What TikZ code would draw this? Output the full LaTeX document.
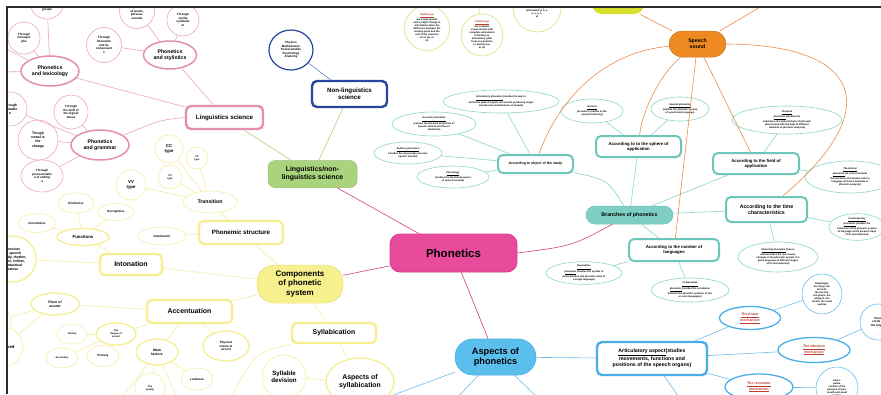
\documentclass[tikz,border=0pt]{standalone}
\usepackage{fontspec}
\setmainfont{Liberation Sans}
\usetikzlibrary{shapes.geometric,shapes.misc}
\definecolor{mag}{HTML}{E94B9C}
\definecolor{magd}{HTML}{D43C88}
\definecolor{pinkb}{HTML}{E48FAF}
\definecolor{pinkt}{HTML}{EBA7C0}
\definecolor{grn}{HTML}{A9D47E}
\definecolor{navy}{HTML}{27479E}
\definecolor{yel}{HTML}{F7F08F}
\definecolor{yelb}{HTML}{F6EE90}
\definecolor{yelt}{HTML}{F6F0AA}
\definecolor{tl}{HTML}{7ECEC3}
\definecolor{tlb}{HTML}{6CC6B9}
\definecolor{tlt}{HTML}{8AD5CA}
\definecolor{org}{HTML}{EF8A23}
\definecolor{orgl}{HTML}{E98C4E}
\definecolor{sky}{HTML}{5BBFEE}
\definecolor{skyb}{HTML}{49AEE6}
\definecolor{skyt}{HTML}{6CBDEB}
\definecolor{limec}{HTML}{D5E02C}
\definecolor{limet}{HTML}{DCE58A}
\definecolor{redt}{HTML}{C0392B}
\definecolor{framec}{HTML}{2B2B2B}
\tikzset{
 base/.style={inner sep=0pt, align=center, text=black},
 ell/.style={base, ellipse},
 cir/.style={base, circle},
 wbox/.style={base, rectangle, rounded corners=5pt, fill=white, line width=2.4pt},
 f1/.style={font=\fontsize{2.5}{3.0}\selectfont\bfseries},
 f2/.style={font=\fontsize{3}{3.6}\selectfont\bfseries},
 f3/.style={font=\fontsize{3.5}{4.1}\selectfont\bfseries},
 f4/.style={font=\fontsize{4.3}{5.1}\selectfont\bfseries},
 f5/.style={font=\fontsize{5.2}{6.2}\selectfont\bfseries},
 f6/.style={font=\fontsize{6.2}{7.4}\selectfont\bfseries},
 f7/.style={font=\fontsize{6.9}{8.1}\selectfont\bfseries},
 f8/.style={font=\fontsize{8}{9.4}\selectfont\bfseries},
 f9/.style={font=\fontsize{9.2}{10.6}\selectfont\bfseries},
 fP/.style={font=\fontsize{11.5}{13}\selectfont\bfseries},
 pinkthick/.style={draw=pinkb, line width=1.5pt, fill=white},
 pinkthin/.style={draw=pinkt, line width=0.6pt, fill=white},
 yelthick/.style={draw=yelb, line width=1.3pt, fill=white},
 yelthin/.style={draw=yelt, line width=0.7pt, fill=white},
 tealthin/.style={draw=tlt, line width=0.6pt, fill=white},
 skythick/.style={draw=skyb, line width=1.3pt, fill=white},
 skythin/.style={draw=skyt, line width=0.6pt, fill=white},
 limethin/.style={draw=limet, line width=0.7pt, fill=white},
 pl/.style={draw=pinkt, line width=0.6pt},
 gl/.style={draw=grn, line width=0.6pt},
 nl/.style={draw=navy!80, line width=0.5pt},
 ml/.style={draw=magd, line width=0.6pt},
 yl/.style={draw=yelt, line width=0.7pt},
 tline/.style={draw=tlt, line width=0.6pt},
 ol/.style={draw=orgl, line width=0.6pt},
 sl/.style={draw=skyt, line width=0.6pt},
 ll/.style={draw=limet, line width=0.6pt},
}
\newcommand{\rtxt}[1]{\textcolor{redt}{\underline{#1}}}
\begin{document}
\begin{tikzpicture}[x=1pt,y=-1pt]
\useasboundingbox (0,0) rectangle (881,394);
\fill[white] (0,0) rectangle (881,394);
\begin{scope}
\clip (7,7) rectangle (881,394);

% ---------------- central
\node[base, fP, rectangle, rounded corners=10pt, fill=mag, draw=magd, line width=0.8pt, minimum width=127pt, minimum height=38pt] (ph) at (453.5,253) {Phonetics};

% ---------------- linguistics
\node[base, f7, rectangle, rounded corners=7pt, fill=grn, draw=grn!90!black, line width=0.5pt, minimum width=89pt, minimum height=27pt] (lnl) at (312.5,174) {Linguistics/non-\\linguistics science};
\node[wbox, f6, draw=navy, minimum width=75pt, minimum height=26pt] (nl) at (349.5,94) {Non-linguistics\\science};
\node[ell, f2, draw=navy, line width=1.2pt, fill=white, minimum width=44pt, minimum height=40pt] (phys) at (291,50) {Physics\\Mathematics\\Social studies\\Psychology\\Anatomy};
\node[wbox, f6, draw=pinkb, minimum width=77pt, minimum height=23pt] (ls) at (224.5,117.5) {Linguistics science};

\node[ell, pinkthick, f5, minimum width=58pt, minimum height=30pt] (lex) at (50,71) {Phonetics\\and lexicology};
\node[ell, pinkthick, f5, minimum width=53pt, minimum height=28pt] (sty) at (170,55) {Phonetics\\and stylistics};
\node[ell, pinkthick, f5, minimum width=58pt, minimum height=30pt] (gram) at (100,145) {Phonetics\\and grammar};

\node[cir, pinkthin, minimum size=34pt] (grp) at (47,2) {};
\node[base, f2] (grpt) at (47,10) {groups};
\node[cir, pinkthin, f2, minimum size=32pt] (hom) at (24,38) {Through\\homogra\\phs};
\node[cir, pinkthin, f2, minimum size=35pt] (intc) at (104,45) {Through\\intonation\\and its\\component\\s};
\node[cir, pinkthin, f2, minimum size=35pt] (rep) at (137,11) {Through\\repetition\\of words,\\phrases,\\sounds};
\node[cir, pinkthin, f2, minimum size=32pt] (sym) at (183,20) {Through\\words\\symbolis\\m};
\node[cir, pinkthin, f3, minimum size=34pt] (ron) at (10,109) {Through\\intonatio\\n};
\node[cir, pinkthin, f2, minimum size=34pt] (shf) at (71,112) {Through\\the shift of\\the logical\\stress};
\node[cir, pinkthin, f3, minimum size=40pt] (vow) at (38,140) {Trough\\vowel is\\the\\change};
\node[ell, pinkthin, f2, minimum width=42pt, minimum height=32pt] (pro) at (42,176) {Through\\pronounciatio\\n of ending\\-s};
\coordinate (offA) at (0,72);
\coordinate (offB) at (0,46);

\draw[gl] (lnl) -- (nl);
\draw[gl] (lnl) -- (ls);
\draw[nl] (phys) -- (nl);
\draw[ml] (lnl) -- (ph);
\draw[pl] (ls) -- (lex);
\draw[pl] (ls) -- (sty);
\draw[pl] (ls.west) .. controls (160,120) .. (gram);
\draw[pl] (lex) -- (grp);
\draw[pl] (lex) -- (hom);
\draw[pl] (lex) -- (offA);
\draw[pl] (lex) -- (offB);
\draw[pl] (sty) -- (intc);
\draw[pl] (sty) -- (rep);
\draw[pl] (sty) -- (sym);
\draw[pl] (gram) -- (shf);
\draw[pl] (gram) -- (vow);
\draw[pl] (gram) -- (pro);
\draw[pl] (gram) -- (ron);

% ---------------- components (yellow)
\node[base, f8, rectangle, rounded corners=17pt, fill=yel, draw=yelb!80!black!30!yel, line width=0.5pt, minimum width=86pt, minimum height=38pt] (comp) at (300,284) {Components\\of phonetic\\system};
\node[wbox, f6, draw=yelb, minimum width=84pt, minimum height=23pt] (phs) at (241,232.5) {Phonemic structure};
\node[ell, yelthin, f5, minimum width=54pt, minimum height=22pt] (tra) at (210,202) {Transition};
\node[cir, yelthin, f4, minimum size=28pt] (cc) at (169,149) {CC\\type};
\node[cir, yelthin, f1, minimum size=22pt] (vc) at (197,158) {VC\\type};
\node[cir, yelthin, f1, minimum size=24pt] (cv) at (170,177) {CV\\type};
\node[cir, yelthin, f4, minimum size=30pt] (vv) at (131,185) {VV\\type};
\node[ell, yelthin, f2, minimum width=48pt, minimum height=18pt] (dis) at (162,236) {Distribution};

\node[wbox, f7, draw=yelb, minimum width=62pt, minimum height=21pt] (int) at (131,264.5) {Intonation};
\node[ell, yelthick, f4, minimum width=52pt, minimum height=17pt] (fun) at (83,237) {Functions};
\node[ell, yelthin, f2, minimum width=36pt, minimum height=20pt] (dst) at (76,203) {Distinctive};
\node[ell, yelthin, f2, minimum width=36pt, minimum height=17pt] (rec) at (116,212) {Recognitive};
\node[ell, yelthin, f2, minimum width=38pt, minimum height=19pt] (con) at (37,223) {Constitutive};
\node[cir, yelthick, f3, minimum size=46pt] (icon) at (13,259) {consists\\of speech\\melody, rhythm,\\tempo, timbre,\\syntactical\\stress};

\node[wbox, f7, draw=yelb, minimum width=85pt, minimum height=23pt] (acc) at (189.5,311.5) {Accentuation};
\node[ell, yelthick, f3, minimum width=48pt, minimum height=22pt] (poa) at (55,304) {Place of\\accent};
\node[cir, yelthin, minimum size=34pt] (pa1) at (-6,322) {};
\node[cir, yelthin, minimum size=40pt] (pa2) at (3,347) {};
\node[base, f4] (pa2t) at (9,347) {Fixed};
\node[ell, yelthick, f1, minimum width=40pt, minimum height=22pt] (deg) at (116,334) {The\\degree of\\accent};
\node[ell, yelthin, f1, minimum width=30pt, minimum height=20pt] (ter) at (72,334) {Tertiary};
\node[ell, yelthin, f1, minimum width=32pt, minimum height=20pt] (sec) at (62,358) {Secondary};
\node[ell, yelthin, f2, minimum width=32pt, minimum height=21pt] (pri) at (103,356) {Primary};
\node[ell, yelthick, f3, minimum width=42pt, minimum height=26pt] (mf) at (157,352) {Main\\factors};
\node[ell, yelthin, f2, minimum width=32pt, minimum height=22pt] (lou) at (197,379) {Loudness};
\node[cir, yelthin, f1, minimum size=30pt] (qua) at (150,388) {The\\quality};
\node[ell, yelthick, f2, minimum width=46pt, minimum height=30pt] (pna) at (226,346) {Physical\\nature of\\accent};
\coordinate (mfo1) at (120,400);
\coordinate (mfo2) at (178,400);

\node[wbox, f7, draw=yelb, minimum width=84pt, minimum height=20pt] (syl) at (334,333) {Syllabication};
\node[ell, yelthick, f7, minimum width=68pt, minimum height=48pt] (asy) at (360,382) {Aspects of\\syllabication};
\node[cir, yelthin, f6, minimum size=44pt] (sdv) at (284,377) {Syllable\\devision};
\coordinate (syo) at (230,400);

\draw[ml] (ph) -- (comp);
\draw[yl] (phs) -- (comp);
\draw[yl] (tra) -- (phs);
\draw[yl] (cc) -- (tra);
\draw[yl] (vc) -- (tra);
\draw[yl] (cv) -- (tra);
\draw[yl] (vv) -- (tra);
\draw[yl] (dis) -- (phs);
\draw[yl] (int) -- (comp);
\draw[yl] (fun) -- (int);
\draw[yl] (dst) -- (fun);
\draw[yl] (rec) -- (fun);
\draw[yl] (con) -- (fun);
\draw[yl] (icon) -- (int);
\draw[yl] (acc) -- (comp);
\draw[yl] (poa) -- (acc);
\draw[yl] (poa) -- (pa1);
\draw[yl] (poa) -- (pa2);
\draw[yl] (deg) -- (acc);
\draw[yl] (ter) -- (deg);
\draw[yl] (sec) -- (deg);
\draw[yl] (pri) -- (deg);
\draw[yl] (mf) -- (acc);
\draw[yl] (mf) -- (lou);
\draw[yl] (mf) -- (qua);
\draw[yl] (mf) -- (mfo1);
\draw[yl] (mf) -- (mfo2);
\draw[yl] (pna) -- (acc);
\draw[yl] (syl) -- (comp);
\draw[yl] (asy) -- (syl);
\draw[yl] (sdv) -- (asy);
\draw[yl] (syl.south west) .. controls (255,352) .. (syo);

% ---------------- aspects (blue)
\node[base, f9, rectangle, rounded corners=18pt, fill=sky, draw=skyb, line width=0.6pt, minimum width=81pt, minimum height=36pt] (asp) at (495.5,357) {Aspects of\\phonetics};
\node[wbox, f5, draw=skyb, minimum width=110pt, minimum height=33pt] (art) at (652,358.5) {\underline{Articulatory aspect}(studies\\movements, functions and\\positions of the speech organs)};
\node[ell, skythick, f3, minimum width=61pt, minimum height=23pt] (pow) at (750,318) {\rtxt{The power}\\\rtxt{mechanism}};
\node[ell, skythick, f3, minimum width=72pt, minimum height=25pt] (vib) at (814,350) {\rtxt{The vibration}\\\rtxt{mechanism}};
\node[ell, skythick, f3, minimum width=68pt, minimum height=26pt] (res) at (759,387) {\rtxt{The resonator}\\\rtxt{mechanism}};
\node[cir, skythin, f1, minimum size=40pt] (dia) at (822,294) {Diaphragm,\\the lungs, the\\bronchi,\\the trachea,\\the glottis, the\\pharynx, the\\mouth, the nasal\\cavities};
\node[cir, skythin, f2, minimum size=36pt] (voc) at (878,322) {Vocal\\cords in\\the larynx};
\node[cir, skythin, f1, minimum size=42pt] (soa) at (837,388) {Soars:\\palate,\\cavities of the\\pharynx, larynx,\\mouth and nasal\\cavities};
\coordinate (aso1) at (388,397);
\coordinate (aso2) at (455,400);
\coordinate (aso3) at (540,400);
\coordinate (arto) at (681,400);

\draw[ml] (ph) -- (asp);
\draw[sl] (asp) -- (art);
\draw[sl] (asp) -- (aso1);
\draw[sl] (asp) -- (aso2);
\draw[sl] (asp) -- (aso3);
\draw[sl] (art) -- (pow);
\draw[sl] (art) -- (vib);
\draw[sl] (art) -- (res);
\draw[sl] (art) -- (arto);
\draw[sl] (pow) -- (dia);
\draw[sl] (vib) -- (voc);
\draw[sl] (res) -- (soa);

% ---------------- branches (teal)
\node[base, f5, rectangle, rounded corners=9pt, fill=tl, draw=tlb, line width=0.5pt, minimum width=87pt, minimum height=18pt] (br) at (629.5,215) {Branches of phonetics};
\node[wbox, f3, draw=tlb, line width=2pt, minimum width=75pt, minimum height=18pt] (obj) at (535.5,164) {According to object of the study};
\node[wbox, f4, draw=tlb, line width=2pt, minimum width=85pt, minimum height=21pt] (sph) at (638.5,146.5) {According to to the sphere of\\application};
\node[wbox, f4, draw=tlb, line width=2pt, minimum width=86pt, minimum height=21pt] (fld) at (756,163.5) {According to the field of\\application};
\node[wbox, f5, draw=tlb, line width=2pt, minimum width=81pt, minimum height=25pt] (tim) at (766.5,209.5) {According to the time\\characteristics};
\node[wbox, f4, draw=tlb, line width=2pt, minimum width=90pt, minimum height=22pt] (num) at (674,250) {According to the number of\\languages};

\node[ell, tealthin, f1, minimum width=116pt, minimum height=23pt] (aph) at (501,101.5) {\underline{Articulatory phonetics} (studies the way in\\which the speech organs are used in producing single\\sounds and combinations of sounds)};
\node[ell, tealthin, f1, minimum width=84pt, minimum height=24pt] (acp) at (434,124) {\underline{Acoustic phonetics}\\(studies the physical properties of\\speech sounds and the air\\vibrations)};
\node[ell, tealthin, f1, minimum width=68pt, minimum height=22pt] (aud) at (408,153) {\underline{Auditory phonetics}\\(studies the way people perceive\\speech sounds)};
\node[ell, tealthin, f1, minimum width=72pt, minimum height=22pt] (pho) at (453,177) {\underline{Phonology}\\(studies the functional aspect\\of speech sounds)};
\node[ell, tealthin, f1, minimum width=62pt, minimum height=24pt] (gen) at (592,111) {\underline{General}\\phonetics (studies of the\\sound producing)};
\node[ell, tealthin, f1, minimum width=58pt, minimum height=24pt] (spc) at (680,109) {\underline{Special phonetics}\\(studies the phonetic system\\of a particular language)};
\node[ell, tealthin, f1, minimum width=110pt, minimum height=28pt] (pra) at (787,120) {\underline{Practical}\\\underline{phonetics} (studies the\\substance, the material form of phonetic\\phenomena with the help of different\\methods of phonetic analysis)};
\node[ell, tealthin, f1, minimum width=90pt, minimum height=32pt] (the) at (850,177) {\underline{Theoretical}\\\underline{phonetics} (is concerned with\\the functions of phonetic units in\\language and uses methods of\\phonetic analysis)};
\node[ell, tealthin, f1, minimum width=56pt, minimum height=26pt] (ctp) at (857,227) {\underline{Contemporary}\\\underline{phonetics} (studies the\\functions of the phonetic system\\of language at the present stage\\of its development)};
\node[ell, tealthin, f1, minimum width=80pt, minimum height=30pt] (his) at (778,257) {\underline{Historical phonetics} (traces\\and describes the successive\\changes in the phonetic system of a\\given language at different stages\\of its development)};
\node[ell, tealthin, f1, minimum width=78pt, minimum height=24pt] (cmp) at (690,290) {\underline{Comparative}\\\underline{phonetics} (studies the correlation\\between the phonetic systems of two\\or more languages)};
\node[ell, tealthin, f1, minimum width=76pt, minimum height=21pt] (des) at (584,273) {\underline{Descriptive}\\\underline{phonetics} (studies the system of\\pronunciation and phonetic units of\\a single language)};

\draw[ml] (ph.east) .. controls (572,246) .. (br);
\draw[tline] (br) .. controls (608,180) .. (obj);
\draw[tline] (br) -- (sph);
\draw[tline] (br) -- (fld);
\draw[tline] (br) -- (tim);
\draw[tline] (br) -- (num);
\draw[tline] (obj) -- (aph);
\draw[tline] (obj) -- (acp);
\draw[tline] (obj) -- (aud);
\draw[tline] (obj) -- (pho);
\draw[tline] (sph) -- (gen);
\draw[tline] (sph) -- (spc);
\draw[tline] (fld) -- (pra);
\draw[tline] (fld) -- (the);
\draw[tline] (tim) -- (ctp);
\draw[tline] (tim) -- (his);
\draw[tline] (num) -- (cmp);
\draw[tline] (num) -- (des);

% ---------------- speech sound (orange) and lime
\node[base, f5, rectangle, rounded corners=13pt, fill=org, draw=org!85!black, line width=0.5pt, minimum width=57pt, minimum height=26pt] (ss) at (697.5,44) {Speech\\sound};
\node[base, rectangle, rounded corners=10pt, fill=limec, minimum width=52pt, minimum height=22pt] (lim) at (618,3) {};
\node[cir, limethin, f1, minimum size=45pt] (dip) at (427,28) {\rtxt{Diphthongs}\\are vowel sounds\\with a slight change in\\articulation when the\\difference between the\\starting point and the\\end of the sound to\\occur (ai, ei,\\ei)};
\node[cir, limethin, f1, minimum size=42pt] (tri) at (482,35) {\rtxt{Triphthongs}\\are complex\\vowel sounds with\\complete articulation\\including an\\articulatory glide\\from one position\\to another (ai,\\ei, ai)};
\node[cir, limethin, f1, minimum size=48pt] (mon) at (537,8) {Monophthongs\\are vowel\\sounds with pure\\unchanging\\articulation (i, a, e,\\u, o, a, i:,\\u)};
\coordinate (lio) at (478,-2);
\coordinate (sso) at (772,0);

\draw[ll] (tri) -- (lio);
\draw[ol] (lim) -- (ss);
\draw[ol] (ss) -- (sso);
\draw[ol] (ss) .. controls (600,52) and (556,105) .. (obj);
\draw[ol] (ss) .. controls (662,72) and (642,110) .. (sph);
\draw[ol] (ss) -- (fld);
\draw[ol] (ss) -- (num);
\draw[ol] (ss.east) .. controls (870,45) and (880,115) .. (tim);
\end{scope}
\draw[framec, line width=1.6pt] (7,394) -- (7,7) -- (881,7);
\end{tikzpicture}
\end{document}
